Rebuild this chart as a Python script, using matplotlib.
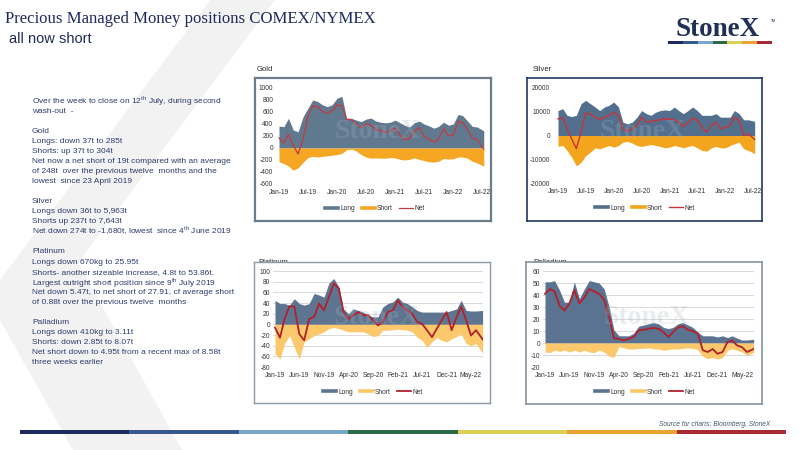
import matplotlib
matplotlib.use('Agg')
import matplotlib.pyplot as plt
import matplotlib.dates as mdates
from matplotlib.patches import Polygon, Rectangle
from matplotlib.lines import Line2D
import pandas as pd

plt.rcParams['font.family'] = ['Liberation Sans', 'DejaVu Sans']
plt.rcParams['axes.unicode_minus'] = False
plt.rcParams['mathtext.fontset'] = 'custom'
plt.rcParams['mathtext.rm'] = 'Liberation Sans'

W, H = 800, 450

# month starts Jan-19 .. Jun-22, then the last report (12 Jul 2022)
dates = [d.to_pydatetime() for d in pd.date_range('2019-01-01', '2022-06-01', freq='MS')]
dates.append(pd.Timestamp('2022-07-12').to_pydatetime())

# Gold (t)
gold_long = [365, 355, 495, 300, 270, 520, 660, 800, 775, 720, 690, 720,
             830, 860, 495, 495, 465, 440, 480, 500, 450, 430, 420, 430,
             465, 420, 380, 350, 420, 450, 400, 370, 330, 360, 430, 380,
             400, 560, 540, 450, 360, 350, 285]
gold_short = [-230, -260, -300, -370, -330, -240, -160, -140, -150, -140, -130, -120,
              -110, -90, -30, -20, -50, -110, -150, -170, -165, -170, -170, -160,
              -165, -190, -200, -190, -165, -190, -210, -230, -235, -220, -175, -185,
              -180, -150, -150, -170, -220, -250, -304]
gold_net = [170, 80, 230, 40, -100, 150, 520, 700, 690, 610, 580, 620,
            720, 700, 480, 470, 410, 330, 400, 380, 310, 290, 260, 290,
            330, 210, 140, 160, 280, 340, 200, 150, 100, 150, 320, 200,
            220, 450, 420, 310, 160, 140, -19]

# Silver (t)
silver_long = [10500, 11300, 8500, 8000, 8500, 13400, 14800, 13400, 12000, 10500, 12000, 12700,
               14100, 12000, 5600, 4900, 5600, 7700, 10500, 9200, 8500, 9800, 10500, 10800,
               10500, 12000, 10500, 9200, 10500, 12000, 10500, 8500, 8500, 8500, 9200, 7700,
               7700, 7700, 10500, 9200, 6600, 6600, 5963]
silver_short = [-4600, -4200, -6300, -9200, -12800, -11300, -8500, -7000, -5200, -5600, -4900, -4200,
                -4900, -4200, -2800, -2500, -3200, -4200, -4600, -4200, -3800, -4200, -4600, -5200,
                -4900, -4200, -4600, -5200, -4600, -4200, -5200, -6300, -6600, -5200, -4600, -5200,
                -5200, -4200, -3500, -2800, -5600, -6300, -7643]
silver_net = [7000, 7500, 3000, -1500, -5500, 1500, 9500, 9000, 7700, 6600, 7700, 8400,
              9800, 8400, 2800, 1800, 2800, 4200, 7700, 5600, 5900, 6300, 6600, 7000,
              7000, 6600, 5600, 3800, 5600, 7300, 6300, 3500, 1400, 4200, 5600, 2800,
              3500, 4200, 7700, 6300, 0, 700, -1680]

# Platinum (t)
plat_long = [45, 39, 39, 36, 48, 39, 36, 39, 58, 55, 51, 77,
             86, 70, 29, 20, 29, 26, 23, 17, 14, 14, 33, 39,
             42, 51, 42, 39, 33, 26, 23, 23, 23, 23, 23, 23,
             26, 29, 45, 26, 25, 25, 26]
plat_short = [-55, -65, -36, -21, -43, -65, -33, -27, -21, -18, -14, -8,
              -6, -8, -11, -14, -14, -14, -14, -18, -23, -21, -11, -11,
              -10, -9, -10, -11, -14, -24, -30, -43, -33, -25, -30, -33,
              -27, -23, -18, -36, -40, -36, -54]
plat_net = [-6, -25, 10, 34, 33, -18, -30, 10, 14, 39, 26, 51,
            77, 67, 23, 10, 17, 23, 17, 17, 8, -2, 4, 23,
            26, 45, 33, 26, 20, 4, 1, -11, -24, -8, 8, 23,
            -11, 14, 33, 8, -21, -11, -28]

# Palladium (t)
pall_long = [51, 51, 52, 44, 34, 34, 51, 37, 45, 52, 51, 50,
             45, 30, 11, 6, 6, 6, 8, 14, 15, 16, 17, 16,
             13, 12, 13, 16, 17, 15, 13, 9, 6, 6, 6, 5,
             6, 4.5, 6, 4, 2.5, 2.5, 3.11]
pall_short = [-7.5, -8, -6, -7, -6, -7.5, -6, -7.5, -6, -7.5, -8, -6,
              -7.5, -11, -12, -3, -4, -5, -5, -4.5, -4.5, -4, -5, -5,
              -6, -5.5, -5, -5, -4.5, -4, -4.5, -5.5, -11, -13, -12, -13.5,
              -12, -6, -5, -6, -7.5, -10, -8.07]
pall_net = [41, 45, 43, 31, 27, 33, 44, 33, 38, 45, 43, 41,
            36, 22, 4, 3.5, 2, 3.5, 5, 10.6, 11, 12, 12.5, 12,
            9, 5, 9, 13, 14, 11, 10, 8, -6, -7.5, -5, -9,
            -7.5, 1, 2, -2, -3.5, -7.5, -4.95]

ticks_6m = ['2019-01-01', '2019-07-01', '2020-01-01', '2020-07-01',
            '2021-01-01', '2021-07-01', '2022-01-01', '2022-07-01']
ticks_5m = ['2019-01-01', '2019-06-01', '2019-11-01', '2020-04-01', '2020-09-01',
            '2021-02-01', '2021-07-01', '2021-12-01', '2022-05-01']

body = [
    (100, r'Over the week to close on 12$^{\rm th}$ July, during second'),
    (110, 'wash-out  -'),
    (130, 'Gold'),
    (140, 'Longs: down 37t to 285t'),
    (150, 'Shorts: up 37t to 304t'),
    (160, 'Net now a net short of 19t compared with an average'),
    (170, 'of 248t  over the previous twelve  months and the'),
    (180, 'lowest  since 23 April 2019'),
    (200, 'Silver'),
    (210, 'Longs down 36t to 5,963t'),
    (220, 'Shorts up 237t to 7,643t'),
    (230, r'Net down 274t to -1,680t, lowest  since 4$^{\rm th}$ June 2019'),
    (250, 'Platinum'),
    (261, 'Longs down 670kg to 25.95t'),
    (271, 'Shorts- another sizeable increase, 4.8t to 53.86t.'),
    (281, r'Largest outright short position since 9$^{\rm th}$ July 2019'),
    (291, 'Net down 5.47t, to net short of 27.91, cf average short'),
    (301, 'of 0.88t over the previous twelve  months'),
    (321, 'Palladium'),
    (331, 'Longs down 410kg to 3.11t'),
    (341, 'Shorts: down 2.85t to 8.07t'),
    (351, 'Net short down to 4.95t from a recent max of 8.58t'),
    (361, 'three weeks earlier'),
]

stripe = ['#1f2a5c', '#365a8c', '#7aa6c8', '#2b6b4a', '#dccf55', '#eba331', '#a82b33']

fig = plt.figure(figsize=(8, 4.5), dpi=100)


def fx(x):
    return x / W


def fy(y):
    return 1 - y / H


def px_axes(l, t, r, b, z):
    ax = fig.add_axes([l / W, 1 - b / H, (r - l) / W, (b - t) / H])
    ax.set_zorder(z)
    return ax


# slide background chevron
chevron = [(210, 0), (275, 0), (78, 263), (182, 450), (73, 450), (0, 320), (0, 280)]
fig.add_artist(Polygon([(fx(x), fy(y)) for x, y in chevron], closed=True,
                       transform=fig.transFigure, facecolor='#f2f2f2',
                       edgecolor='none', zorder=0))

# headers
fig.text(fx(5), fy(23), 'Precious Managed Money positions COMEX/NYMEX', family='Liberation Serif',
         fontsize=12.1, color='#1f2a5c', va='baseline')
fig.text(fx(9), fy(43), 'all now short', fontsize=10.5, color='#1f2a5c', va='baseline')

for y, line in body:
    # mathtext lines sit a little high, nudge them down
    off = 4 if '$' in line else 3
    fig.text(fx(32), fy(y + off), line, fontsize=6, color='#2f3c6e', va='baseline')

# logo
fig.text(fx(718), fy(29), 'StoneX', family='Liberation Serif', fontweight='bold',
         fontsize=19.5, color='#1f2f55', ha='center', va='center')
fig.text(fx(771), fy(21), 'TM', fontsize=2.5, color='#1f2f55', va='center')
for i, c in enumerate(stripe):
    fig.add_artist(Rectangle((fx(668 + i * 104 / 7), fy(44)), 104 / 7 / W, 3 / H,
                             transform=fig.transFigure, facecolor=c, edgecolor='none', zorder=1))

# footer
for i, c in enumerate(stripe):
    fig.add_artist(Rectangle((fx(20 + i * 766 / 7), fy(434)), 766 / 7 / W, 4.5 / H,
                             transform=fig.transFigure, facecolor=c, edgecolor='none', zorder=1))
fig.text(fx(770), fy(424), 'Source for charts: Bloomberg, StoneX', fontsize=4.8,
         style='italic', color='#44546a', ha='right', va='center')


def panel(name, title_xy, frame, plot, ref, long_v, short_v, net_v, ylim, ystep,
          ticks, long_c, short_c, net_c, net_lw, grid, frame_c, frame_lw, legend_xy, mark_xy):
    fl, ft, fr, fb = frame
    fig.text(fx(title_xy[0]), fy(title_xy[1]), name, fontsize=5.5, color='#262626',
             va='baseline', zorder=0.5)
    box = px_axes(fl, ft, fr, fb, 1)
    box.set_xticks([])
    box.set_yticks([])
    for s in box.spines.values():
        s.set_color(frame_c)
        s.set_linewidth(frame_lw)

    l, t, r, b = plot
    ax = px_axes(l, t, r, b, 2)
    ax.patch.set_alpha(0)
    for s in ax.spines.values():
        s.set_visible(False)
    xs = mdates.date2num(dates)
    ax.fill_between(xs, 0, long_v, color=long_c, lw=0, zorder=2)
    ax.fill_between(xs, 0, short_v, color=short_c, lw=0, zorder=2)
    ax.plot(xs, net_v, color=net_c, lw=net_lw, zorder=3)

    # x scale from two tick positions
    n0 = mdates.date2num(pd.Timestamp(ticks[0]).to_pydatetime())
    n1 = mdates.date2num(pd.Timestamp(ticks[-1]).to_pydatetime())
    k = (n1 - n0) / (ref[1] - ref[0])
    ax.set_xlim(n0 + (l - ref[0]) * k, n0 + (r - ref[0]) * k)
    tk = [mdates.date2num(pd.Timestamp(d).to_pydatetime()) for d in ticks]
    ax.set_xticks(tk)
    ax.set_xticklabels([pd.Timestamp(d).strftime('%b-%y') for d in ticks])
    ax.set_ylim(*ylim)
    yt = list(range(ylim[0], ylim[1] + 1, ystep))
    ax.set_yticks(yt)
    ax.tick_params(length=0, labelsize=4.8, labelcolor='#333333')
    ax.tick_params(axis='x', pad=3.5)
    ax.tick_params(axis='y', pad=2)
    if grid:
        ax.grid(axis='y', color='#d9d9d9', lw=0.7, zorder=0)
        ax.set_axisbelow(True)

    handles = [Line2D([], [], color=long_c, lw=2.6),
               Line2D([], [], color=short_c, lw=2.6),
               Line2D([], [], color=net_c, lw=net_lw)]
    leg = fig.legend(handles, ['Long', 'Short', 'Net'], loc='center',
                     bbox_to_anchor=(fx(legend_xy[0]), fy(legend_xy[1])), ncol=3,
                     frameon=False, fontsize=4.8, handlelength=2.0, handletextpad=0.3,
                     columnspacing=1.0, borderpad=0)
    leg.set_zorder(5)
    for txt in leg.get_texts():
        txt.set_color('#333333')

    fig.text(fx(mark_xy[0]), fy(mark_xy[1]), 'StoneX', family='Liberation Serif',
             fontweight='bold', fontsize=20, color='#aab4c2', alpha=0.25,
             ha='center', va='center', zorder=4)


panel('Gold', (257, 71), (255, 78, 491, 221), (276, 88, 486, 184), (279, 482),
      gold_long, gold_short, gold_net, (-600, 1000), 200, ticks_6m,
      '#61798f', '#f5a623', '#c23b3e', 0.9, False, '#6b7b8b', 1.6, (375, 209), (378, 132))
panel('Silver', (533, 71), (527, 78, 762, 221), (553, 88, 758, 183), (558, 753),
      silver_long, silver_short, silver_net, (-20000, 20000), 10000, ticks_6m,
      '#52708e', '#f3a61d', '#c8333a', 1.0, False, '#1f3864', 1.2, (645, 208), (643, 132))
panel('Platinum', (258, 263.5), (254, 262, 490, 403), (273, 271, 483, 367), (275, 471),
      plat_long, plat_short, plat_net, (-80, 100), 20, ticks_5m,
      '#5d7590', '#fcc86c', '#b2202b', 1.3, True, '#8c9aa8', 1.0, (373, 392), (377, 317))
panel('Palladium', (533, 263.5), (526, 262, 762, 404), (543, 271, 754, 367), (545, 742),
      pall_long, pall_short, pall_net, (-20, 60), 10, ticks_5m,
      '#5a7390', '#fcc86c', '#b2202b', 1.3, True, '#8895a2', 1.2, (645, 392), (647, 317))

fig.savefig('out.png', dpi=100)
